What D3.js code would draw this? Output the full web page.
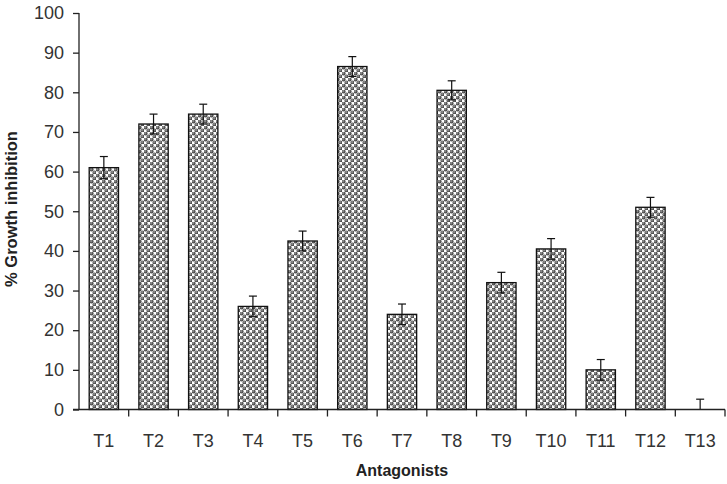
<!DOCTYPE html>
<html>
<head>
<meta charset="utf-8">
<script src="https://cdn.jsdelivr.net/npm/d3@7"></script>
<style>
  body { margin: 0; background: #fff; }
  text { font-family: Arial, "Liberation Sans", sans-serif; }
</style>
</head>
<body>
<svg id="chart" width="727" height="484"></svg>
<script>
var categories = ["T1", "T2", "T3", "T4", "T5", "T6", "T7", "T8", "T9", "T10", "T11", "T12", "T13"];
var values = [61, 72, 74.5, 26, 42.5, 86.5, 24, 80.5, 32, 40.5, 10, 51, 0];
var errors = [2.8, 2.5, 2.5, 2.6, 2.5, 2.5, 2.6, 2.4, 2.6, 2.6, 2.6, 2.5, 2.6];
var yTicks = [0, 10, 20, 30, 40, 50, 60, 70, 80, 90, 100];

var svg = d3.select("#chart");
var plotLeft = 79, plotRight = 725, plotTop = 13, plotBottom = 409.5;

var x = d3.scaleBand().domain(categories).range([plotLeft, plotRight]).paddingInner(0.41).paddingOuter(0.205);
var y = d3.scaleLinear().domain([0, 100]).range([plotBottom, plotTop]);

// sphere pattern
var defs = svg.append("defs");
var grad = defs.append("radialGradient").attr("id", "ball")
    .attr("cx", "40%").attr("cy", "38%").attr("r", "62%");
grad.append("stop").attr("offset", "0%").attr("stop-color", "#bdbdbd");
grad.append("stop").attr("offset", "40%").attr("stop-color", "#666");
grad.append("stop").attr("offset", "100%").attr("stop-color", "#3c3c3c");
var pat = defs.append("pattern").attr("id", "dots")
    .attr("patternUnits", "userSpaceOnUse")
    .attr("width", 6).attr("height", 6);
pat.append("rect").attr("width", 6).attr("height", 6).attr("fill", "#fff");
[[1.5, 1.5], [4.5, 4.5]].forEach(function(p) {
    pat.append("circle").attr("cx", p[0]).attr("cy", p[1]).attr("r", 2.05).attr("fill", "url(#ball)");
});

// bars
svg.selectAll("rect.bar")
    .data(categories)
    .enter().append("rect")
    .attr("class", "bar")
    .attr("x", function(d) { return x(d); })
    .attr("y", function(d, i) { return y(values[i]); })
    .attr("width", x.bandwidth())
    .attr("height", function(d, i) { return plotBottom - y(values[i]); })
    .attr("fill", "url(#dots)")
    .attr("stroke", "#111")
    .attr("stroke-width", 1.3);

// error bars
var eb = svg.selectAll("g.err")
    .data(categories)
    .enter().append("g")
    .attr("class", "err")
    .attr("stroke", "#111")
    .attr("stroke-width", 1.2);
eb.append("line")
    .attr("x1", function(d) { return x(d) + x.bandwidth() / 2; })
    .attr("x2", function(d) { return x(d) + x.bandwidth() / 2; })
    .attr("y1", function(d, i) { return y(Math.max(0, values[i] - errors[i])); })
    .attr("y2", function(d, i) { return y(values[i] + errors[i]); });
eb.append("line")
    .attr("x1", function(d) { return x(d) + x.bandwidth() / 2 - 4; })
    .attr("x2", function(d) { return x(d) + x.bandwidth() / 2 + 4; })
    .attr("y1", function(d, i) { return y(values[i] + errors[i]); })
    .attr("y2", function(d, i) { return y(values[i] + errors[i]); });
eb.filter(function(d, i) { return values[i] - errors[i] > 0; }).append("line")
    .attr("x1", function(d) { return x(d) + x.bandwidth() / 2 - 4; })
    .attr("x2", function(d) { return x(d) + x.bandwidth() / 2 + 4; })
    .attr("y1", function(d) { var i = categories.indexOf(d); return y(values[i] - errors[i]); })
    .attr("y2", function(d) { var i = categories.indexOf(d); return y(values[i] - errors[i]); });

// y axis
var yAxis = svg.append("g")
    .attr("transform", "translate(" + plotLeft + ",0)")
    .call(d3.axisLeft(y).tickValues(yTicks).tickSize(6).tickPadding(9));
yAxis.select(".domain").attr("stroke", "#222").attr("stroke-width", 1.3).attr("d", "M0," + plotBottom + "V" + plotTop);
yAxis.selectAll(".tick line").attr("stroke", "#222").attr("stroke-width", 1.3);
yAxis.selectAll(".tick text").attr("font-size", 18).attr("fill", "#333");

// x axis
var xAxis = svg.append("g").attr("transform", "translate(0," + plotBottom + ")");
xAxis.append("line").attr("x1", plotLeft - 6).attr("x2", plotRight).attr("y1", 0).attr("y2", 0)
    .attr("stroke", "#222").attr("stroke-width", 1.3);
var step = x.step();
xAxis.selectAll("line.tk")
    .data(categories)
    .enter().append("line")
    .attr("class", "tk")
    .attr("x1", function(d) { return x(d) + x.bandwidth() / 2 + step / 2; })
    .attr("x2", function(d) { return x(d) + x.bandwidth() / 2 + step / 2; })
    .attr("y1", 0).attr("y2", 7)
    .attr("stroke", "#222").attr("stroke-width", 1.3);
xAxis.selectAll("text")
    .data(categories)
    .enter().append("text")
    .attr("x", function(d) { return x(d) + x.bandwidth() / 2; })
    .attr("y", 37)
    .attr("text-anchor", "middle")
    .attr("font-size", 18)
    .attr("fill", "#333")
    .text(function(d) { return d; });

// axis titles
svg.append("text")
    .attr("x", (plotLeft + plotRight) / 2)
    .attr("y", 476)
    .attr("text-anchor", "middle")
    .attr("font-size", 16)
    .attr("font-weight", "bold")
    .attr("fill", "#222")
    .text("Antagonists");
svg.append("text")
    .attr("transform", "translate(17,209) rotate(-90)")
    .attr("text-anchor", "middle")
    .attr("font-size", 16.5)
    .attr("font-weight", "bold")
    .attr("fill", "#222")
    .text("% Growth inhibition");
</script>
</body>
</html>
